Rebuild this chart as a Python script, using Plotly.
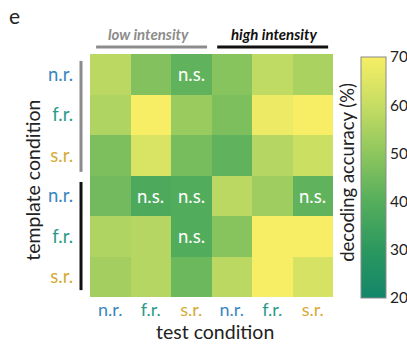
import plotly.graph_objects as go

conditions = ["n.r.", "f.r.", "s.r.", "n.r.", "f.r.", "s.r."]
cond_colors = ["#3a86bf", "#2b9a8a", "#d6aa33", "#3a86bf", "#2b9a8a", "#d6aa33"]

# decoding accuracy (%) rows = template condition, cols = test condition
accuracy = [
    [58, 48, 42, 49, 59, 55],
    [56, 70, 52, 47, 68, 70],
    [47, 64, 46, 42, 57, 61],
    [45, 38, 39, 58, 53, 42],
    [56, 57, 39, 49, 70, 70],
    [54, 57, 44, 58, 70, 63],
]
not_sig = [
    [False, False, True, False, False, False],
    [False, False, False, False, False, False],
    [False, False, False, False, False, False],
    [False, True, True, False, False, True],
    [False, False, True, False, False, False],
    [False, False, False, False, False, False],
]
cbar_ticks = [20, 30, 40, 50, 60, 70]

colorscale = [
    [0.0, "#12866a"],
    [0.2, "#2c985f"],
    [0.4, "#55ae5c"],
    [0.6, "#8ec65e"],
    [0.8, "#c6dd63"],
    [1.0, "#f7ee65"],
]

FONT = "Lato"
idx = list(range(6))

fig = go.Figure()
fig.add_trace(go.Heatmap(
    z=accuracy, x=idx, y=idx, zmin=20, zmax=70,
    colorscale=colorscale, showscale=True,
    colorbar=dict(
        x=1.115, xanchor="left", xref="paper", y=0.492, yanchor="middle",
        len=0.992, lenmode="fraction", thickness=25, thicknessmode="pixels",
        outlinecolor="#8a8a8a", outlinewidth=1, xpad=0, ypad=0,
        tickvals=cbar_ticks, ticks="", ticklabelposition="outside",
        tickfont=dict(family=FONT, size=15.5, color="#222"),
    ),
    hoverinfo="skip",
))

annotations = []
for r in range(6):
    for c in range(6):
        if not_sig[r][c]:
            annotations.append(dict(x=c, y=r, xref="x", yref="y", text="n.s.",
                                    showarrow=False,
                                    font=dict(family=FONT, size=18.5, color="white")))

annotations += [
    dict(x=0.95, y=1.082, xref="x", yref="paper", text="<b><i>low intensity</i></b>",
         xanchor="center", yanchor="middle",
         showarrow=False, font=dict(family=FONT, size=15, color="#8c8c8c")),
    dict(x=4.05, y=1.082, xref="x", yref="paper", text="<b><i>high intensity</i></b>",
         xanchor="center", yanchor="middle",
         showarrow=False, font=dict(family=FONT, size=15, color="#111")),
    dict(x=-0.235, y=0.482, xref="paper", yref="paper", text="template condition",
         xanchor="center", yanchor="middle",
         textangle=-90, showarrow=False, font=dict(family=FONT, size=19.5, color="#222")),
    dict(x=0.515, y=-0.143, xref="paper", yref="paper", text="test condition",
         xanchor="center", yanchor="middle",
         showarrow=False, font=dict(family=FONT, size=19.5, color="#222")),
    dict(x=1.0576, y=0.515, xref="paper", yref="paper", text="decoding accuracy (%)",
         xanchor="center", yanchor="middle",
         textangle=-90, showarrow=False, font=dict(family=FONT, size=18.5, color="#222")),
    dict(x=-0.31, y=1.157, xref="paper", yref="paper", text="e",
         xanchor="center", yanchor="middle",
         showarrow=False, font=dict(family=FONT, size=21, color="#222")),
]

shapes = [
    dict(type="line", xref="x", yref="paper", x0=-0.35, x1=2.39, y0=1.029, y1=1.029,
         line=dict(color="#8c8c8c", width=3)),
    dict(type="line", xref="x", yref="paper", x0=2.64, x1=5.38, y0=1.029, y1=1.029,
         line=dict(color="#111", width=3)),
    dict(type="line", xref="paper", yref="y", x0=-0.037, x1=-0.037, y0=-0.33, y1=2.41,
         line=dict(color="#8c8c8c", width=3)),
    dict(type="line", xref="paper", yref="y", x0=-0.037, x1=-0.037, y0=2.66, y1=5.33,
         line=dict(color="#111", width=3)),
]

ticktext = [f'<span style="color:{col}">{t}</span>' for t, col in zip(conditions, cond_colors)]

fig.update_layout(
    width=407, height=345,
    margin=dict(l=90, r=74, t=54, b=48, autoexpand=False),
    paper_bgcolor="white", plot_bgcolor="white",
    font=dict(family=FONT),
    xaxis=dict(tickvals=idx, ticktext=ticktext, showgrid=False, zeroline=False,
               showline=False, ticks="", ticklabelstandoff=0, automargin=False,
               tickfont=dict(family=FONT, size=18), range=[-0.5, 5.5], fixedrange=True),
    yaxis=dict(tickvals=idx, ticktext=ticktext, showgrid=False, zeroline=False,
               showline=False, ticks="", ticklabelstandoff=16, autorange="reversed",
               automargin=False, tickfont=dict(family=FONT, size=18.5)),
    annotations=annotations, shapes=shapes,
)

fig.write_html("out.html")
